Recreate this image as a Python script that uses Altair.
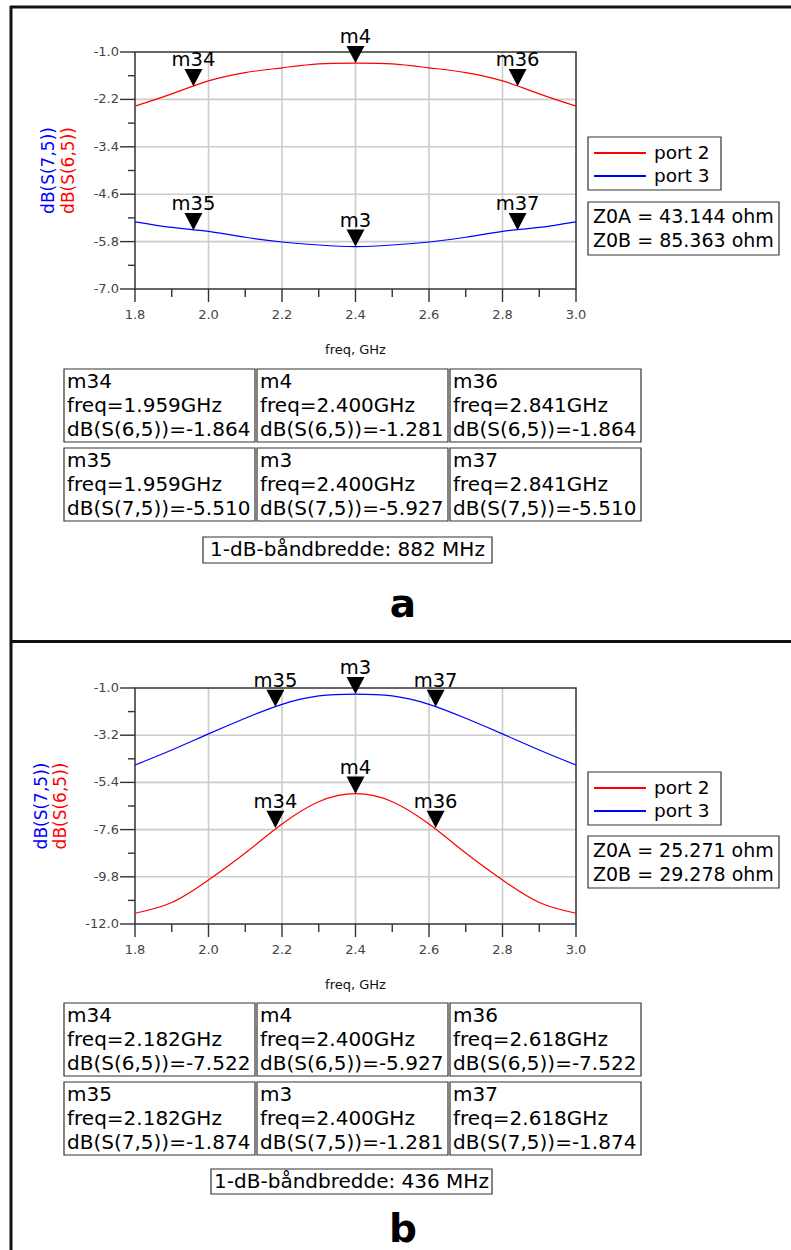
import altair as alt
import pandas as pd

FONT = "DejaVu Sans"
RED = "#ff0000"
BLUE = "#0000ff"
GRID = "#cccccc"
AX = "#333333"

# ---------------- data ----------------
freq = [1.8, 1.9, 2.0, 2.1, 2.2, 2.3, 2.4, 2.5, 2.6, 2.7, 2.8, 2.9, 3.0]
a_port2 = [-2.37, -2.06, -1.73, -1.52, -1.40, -1.30, -1.281, -1.30, -1.40, -1.52, -1.73, -2.06, -2.37]
a_port3 = [-5.30, -5.44, -5.54, -5.69, -5.81, -5.886, -5.927, -5.886, -5.81, -5.69, -5.54, -5.44, -5.30]
b_port2 = [-11.50, -11.00, -9.95, -8.69, -7.34, -6.30, -5.927, -6.30, -7.34, -8.69, -9.95, -11.00, -11.50]
b_port3 = [-4.59, -3.89, -3.14, -2.41, -1.76, -1.37, -1.281, -1.37, -1.76, -2.41, -3.14, -3.89, -4.59]

marker_names = ["m34", "m4", "m36", "m35", "m3", "m37"]
marker_trace = ["S(6,5)", "S(6,5)", "S(6,5)", "S(7,5)", "S(7,5)", "S(7,5)"]
a_mk_freq = [1.959, 2.400, 2.841, 1.959, 2.400, 2.841]
a_mk_val = [-1.864, -1.281, -1.864, -5.510, -5.927, -5.510]
b_mk_freq = [2.182, 2.400, 2.618, 2.182, 2.400, 2.618]
b_mk_val = [-7.522, -5.927, -7.522, -1.874, -1.281, -1.874]

x_ticks = [1.8, 2.0, 2.2, 2.4, 2.6, 2.8, 3.0]
x_labels = ["1.8", "2.0", "2.2", "2.4", "2.6", "2.8", "3.0"]
x_minor = [1.9, 2.1, 2.3, 2.5, 2.7, 2.9]
a_y_ticks = [-1.0, -2.2, -3.4, -4.6, -5.8, -7.0]
a_y_labels = ["-1.0", "-2.2", "-3.4", "-4.6", "-5.8", "-7.0"]
a_y_minor = [-1.6, -2.8, -4.0, -5.2, -6.4]
b_y_ticks = [-1.0, -3.2, -5.4, -7.6, -9.8, -12.0]
b_y_labels = ["-1.0", "-3.2", "-5.4", "-7.6", "-9.8", "-12.0"]
b_y_minor = [-2.1, -4.3, -6.5, -8.7, -10.9]

legend_labels = ["port 2", "port 3"]
y_titles = ["dB(S(7,5))", "dB(S(6,5))"]
x_title = "freq, GHz"
a_z0 = ["Z0A = 43.144 ohm", "Z0B = 85.363 ohm"]
b_z0 = ["Z0A = 25.271 ohm", "Z0B = 29.278 ohm"]
a_bw = "1-dB-båndbredde: 882 MHz"
b_bw = "1-dB-båndbredde: 436 MHz"
panel_letters = ["a", "b"]

# ---------------- layout ----------------
W, H = 791, 1250
X0, X1 = 135, 576

panels = [
    dict(top=52, bot=289, dom=[-7.0, -1.0], yt=a_y_ticks, yl=a_y_labels, ym=a_y_minor,
         p2=a_port2, p3=a_port3, mf=a_mk_freq, mv=a_mk_val, z0=a_z0, bw=a_bw,
         tx=(49, 69), leg=(137, 190), zb=(202, 255), rows=(369, 448), bwb=(203, 492, 537, 563),
         letter=panel_letters[0], ly=617),
    dict(top=688, bot=924, dom=[-12.0, -1.0], yt=b_y_ticks, yl=b_y_labels, ym=b_y_minor,
         p2=b_port2, p3=b_port3, mf=b_mk_freq, mv=b_mk_val, z0=b_z0, bw=b_bw,
         tx=(42, 61), leg=(772, 825), zb=(836, 888), rows=(1003, 1082), bwb=(211, 492, 1169, 1194),
         letter=panel_letters[1], ly=1242),
]

ONE = pd.DataFrame({"k": [0]})


def xs():
    return alt.Scale(domain=[1.8, 3.0], range=[X0, X1], nice=False, zero=False)


def ysc(p):
    return alt.Scale(domain=p["dom"], range=[p["bot"], p["top"]], nice=False, zero=False)


def rule_px(x, x2, y, y2, color, width):
    return alt.Chart(ONE).mark_rule(color=color, strokeWidth=width).encode(
        x=alt.value(x), x2=alt.value(x2), y=alt.value(y), y2=alt.value(y2))


def rect_px(x, x2, y, y2, stroke="#333333", sw=1.2, fill="white", fo=1):
    return alt.Chart(ONE).mark_rect(fill=fill, fillOpacity=fo, stroke=stroke, strokeWidth=sw).encode(
        x=alt.value(x), x2=alt.value(x2), y=alt.value(y), y2=alt.value(y2))


def text_px(t, x, y, size, color="black", align="left", weight="normal", angle=0, baseline="middle"):
    return alt.Chart(pd.DataFrame({"t": [t]})).mark_text(
        font=FONT, fontSize=size, color=color, align=align, baseline=baseline,
        fontWeight=weight, angle=angle).encode(x=alt.value(x), y=alt.value(y), text="t:N")


def panel(p):
    L = []
    top, bot = p["top"], p["bot"]
    # grid
    L.append(alt.Chart(pd.DataFrame({"v": x_ticks[1:-1]})).mark_rule(color=GRID, strokeWidth=1.6).encode(
        x=alt.X("v:Q", scale=xs(), axis=None), y=alt.value(top), y2=alt.value(bot)))
    L.append(alt.Chart(pd.DataFrame({"v": p["yt"][1:-1]})).mark_rule(color=GRID, strokeWidth=1.6).encode(
        y=alt.Y("v:Q", scale=ysc(p), axis=None), x=alt.value(X0), x2=alt.value(X1)))
    # frame of plot
    L.append(rect_px(X0, X1, top, bot, stroke=AX, sw=1.5, fill="white", fo=0))
    # ticks
    L.append(alt.Chart(pd.DataFrame({"v": p["yt"]})).mark_rule(color=AX, strokeWidth=1.4).encode(
        y=alt.Y("v:Q", scale=ysc(p), axis=None), x=alt.value(X0 - 15), x2=alt.value(X0)))
    L.append(alt.Chart(pd.DataFrame({"v": p["ym"]})).mark_rule(color=AX, strokeWidth=1.4).encode(
        y=alt.Y("v:Q", scale=ysc(p), axis=None), x=alt.value(X0 - 7), x2=alt.value(X0)))
    L.append(alt.Chart(pd.DataFrame({"v": x_ticks})).mark_rule(color=AX, strokeWidth=1.4).encode(
        x=alt.X("v:Q", scale=xs(), axis=None), y=alt.value(bot), y2=alt.value(bot + 13)))
    L.append(alt.Chart(pd.DataFrame({"v": x_minor})).mark_rule(color=AX, strokeWidth=1.4).encode(
        x=alt.X("v:Q", scale=xs(), axis=None), y=alt.value(bot), y2=alt.value(bot + 8)))
    # tick labels
    L.append(alt.Chart(pd.DataFrame({"v": p["yt"], "t": p["yl"]})).mark_text(
        font=FONT, fontSize=13, color="#444444", align="right", baseline="middle").encode(
        y=alt.Y("v:Q", scale=ysc(p), axis=None), x=alt.value(X0 - 16), text="t:N"))
    L.append(alt.Chart(pd.DataFrame({"v": x_ticks, "t": x_labels})).mark_text(
        font=FONT, fontSize=13, color="#444444", align="center", baseline="middle").encode(
        x=alt.X("v:Q", scale=xs(), axis=None), y=alt.value(bot + 26), text="t:N"))
    # axis titles
    L.append(text_px(x_title, (X0 + X1) / 2, bot + 61, 13, color="#111111", align="center"))
    yc = (top + bot) / 2
    L.append(text_px(y_titles[0], p["tx"][0], yc, 17, color=BLUE, align="center", angle=270))
    L.append(text_px(y_titles[1], p["tx"][1], yc, 17, color=RED, align="center", angle=270))
    # curves
    for vals, col in ((p["p2"], RED), (p["p3"], BLUE)):
        df = pd.DataFrame({"f": freq, "v": vals})
        L.append(alt.Chart(df).mark_line(color=col, strokeWidth=1.2, interpolate="natural").encode(
            x=alt.X("f:Q", scale=xs(), axis=None), y=alt.Y("v:Q", scale=ysc(p), axis=None)))
    # markers
    mdf = pd.DataFrame({"f": p["mf"], "v": p["mv"], "n": marker_names})
    L.append(alt.Chart(mdf).mark_point(shape="M-1,-1.9L1,-1.9L0,0Z", size=324, filled=True,
                                       color="black", opacity=1, strokeWidth=0).encode(
        x=alt.X("f:Q", scale=xs(), axis=None), y=alt.Y("v:Q", scale=ysc(p), axis=None)))
    L.append(alt.Chart(mdf).mark_text(font=FONT, fontSize=19.5, color="black", align="center",
                                      baseline="alphabetic", dy=-20).encode(
        x=alt.X("f:Q", scale=xs(), axis=None), y=alt.Y("v:Q", scale=ysc(p), axis=None), text="n:N"))
    # legend box
    lt, lb = p["leg"]
    L.append(rect_px(588, 721, lt, lb))
    l1 = lt + 16
    l2 = lt + 39
    L.append(rule_px(594, 646, l1, l1, RED, 2.2))
    L.append(rule_px(594, 646, l2, l2, BLUE, 2.2))
    L.append(text_px(legend_labels[0], 654, l1, 18.5))
    L.append(text_px(legend_labels[1], 654, l2, 18.5))
    # Z0 box
    zt, zb = p["zb"]
    L.append(rect_px(588, 779, zt, zb))
    L.append(text_px(p["z0"][0], 593, zt + 15, 19))
    L.append(text_px(p["z0"][1], 593, zt + 39, 19))
    # marker tables
    cols = [64, 257, 450]
    boxes, lines = [], []
    for i, name in enumerate(marker_names):
        r, c = divmod(i, 3)
        bx, by = cols[c], p["rows"][r]
        boxes.append({"x": bx, "x2": bx + 191, "y": by, "y2": by + 73})
        lines.append({"x": bx + 3, "y": by + 13, "t": name})
        lines.append({"x": bx + 3, "y": by + 37, "t": "freq=%.3fGHz" % p["mf"][i]})
        lines.append({"x": bx + 3, "y": by + 61, "t": "dB(%s)=%.3f" % (marker_trace[i], p["mv"][i])})
    L.append(alt.Chart(pd.DataFrame(boxes)).mark_rect(fill="white", stroke="#333333", strokeWidth=1.2).encode(
        x=alt.X("x:Q", scale=None, axis=None), x2="x2:Q",
        y=alt.Y("y:Q", scale=None, axis=None), y2="y2:Q"))
    L.append(alt.Chart(pd.DataFrame(lines)).mark_text(font=FONT, fontSize=20, color="black",
                                                      align="left", baseline="middle").encode(
        x=alt.X("x:Q", scale=None, axis=None), y=alt.Y("y:Q", scale=None, axis=None), text="t:N"))
    # bandwidth box
    bx0, bx1, by0, by1 = p["bwb"]
    L.append(rect_px(bx0, bx1, by0, by1))
    L.append(text_px(p["bw"], (bx0 + bx1) / 2, (by0 + by1) / 2, 20, align="center"))
    # panel letter
    L.append(text_px(p["letter"], 403, p["ly"], 39, align="center", weight="bold", baseline="alphabetic"))
    return L


layers = [
    rule_px(11, 11, 6, H, "#111111", 3),
    rule_px(10, W, 7, 7, "#111111", 3),
    rule_px(10, W, 641.5, 641.5, "#111111", 3),
]
for p in panels:
    layers += panel(p)

chart = alt.layer(*layers).properties(
    width=W, height=H, autosize=alt.AutoSizeParams(type="none"), padding=0
).resolve_scale(x="independent", y="independent").configure_view(stroke=None)

chart.save("out.html", embed_options={"renderer": "svg", "actions": False})
